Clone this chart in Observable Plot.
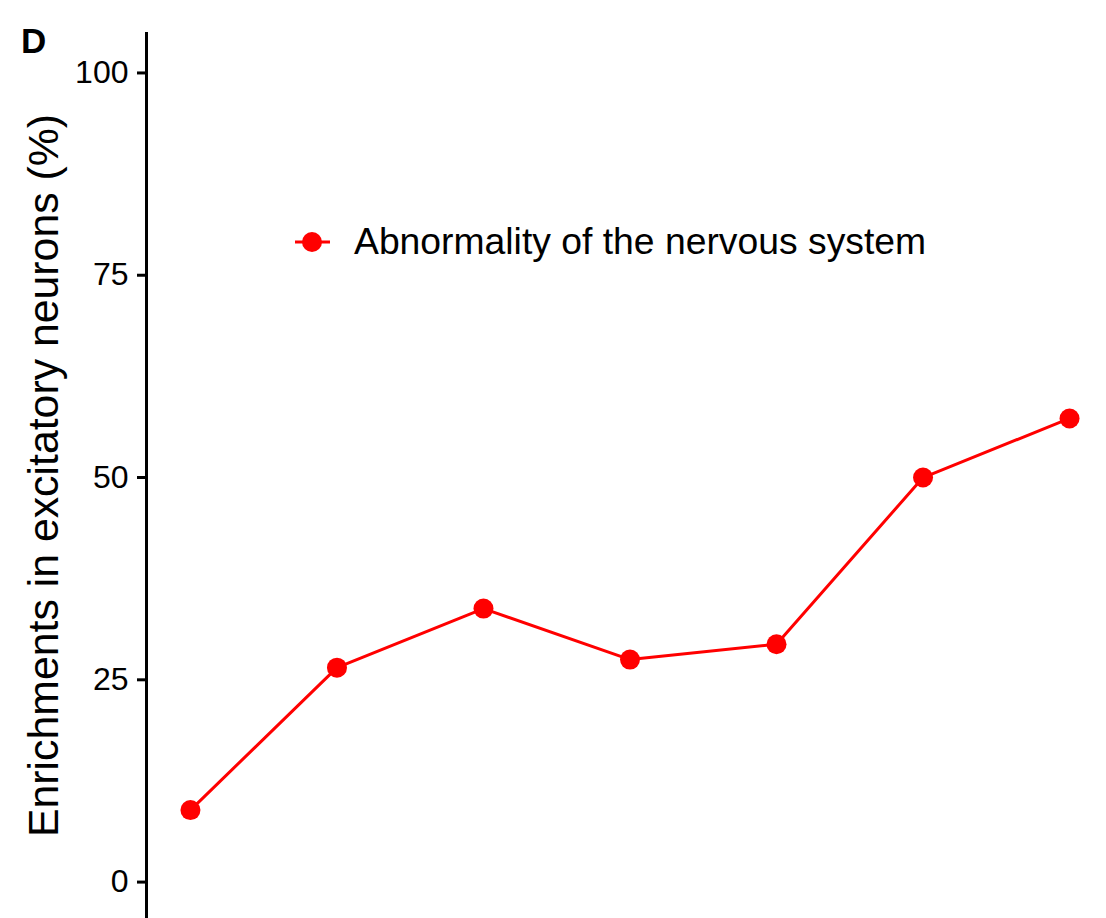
<!DOCTYPE html>
<html><head><meta charset="utf-8">
<script src="https://cdn.jsdelivr.net/npm/d3@7"></script>
<script src="https://cdn.jsdelivr.net/npm/@observablehq/plot@0.6"></script>
<style>
html,body{margin:0;padding:0;background:#fff;}
#wrap{position:relative;width:1106px;height:918px;overflow:hidden;font-family:"Liberation Sans",Arial,sans-serif;color:#000;}
#panel{position:absolute;left:21px;top:23px;font-weight:bold;font-size:35px;line-height:1;}
#legend{position:absolute;left:295px;top:222px;height:40px;display:flex;align-items:center;font-size:37.3px;line-height:1;white-space:nowrap;}
#legend svg{margin-right:24px;display:block;}
</style></head><body>
<div id="wrap"></div>
<script>
const stages = [1, 2, 3, 4, 5, 6, 7];
const enrichment = [8.9, 26.5, 33.8, 27.5, 29.4, 50.0, 57.3];
const yTicks = [0, 25, 50, 75, 100];
const xDomain = [0.7, 7.3];
const yDomain = [-4.5, 105];
const seriesName = "Abnormality of the nervous system";
const yTitle = "Enrichments in excitatory neurons (%)";
const panelTag = "D";
const lineColor = "#ff0000";

const data = stages.map((s, i) => ({stage: s, value: enrichment[i]}));

const plot = Plot.plot({
  width: 1106, height: 918,
  marginTop: 32, marginBottom: 0, marginLeft: 146, marginRight: 0,
  style: {fontFamily: '"Liberation Sans", Arial, sans-serif', background: "white", color: "black", overflow: "visible"},
  x: {domain: xDomain, range: [146, 1113], axis: null},
  y: {domain: yDomain},
  marks: [
    Plot.ruleX([xDomain[0]], {strokeWidth: 3, stroke: "black"}),
    Plot.axisY({ticks: yTicks, tickSize: 9, tickPadding: 9, fontSize: 32, strokeWidth: 3, label: null}),
    Plot.axisY({ticks: [], tickSize: 0, label: yTitle, labelAnchor: "center", labelOffset: 119, labelArrow: "none", fontSize: 42.8}),
    Plot.line(data, {x: "stage", y: "value", stroke: lineColor, strokeWidth: 3}),
    Plot.dot(data, {x: "stage", y: "value", r: 10, fill: lineColor, stroke: "none"})
  ]
});

const wrap = document.getElementById("wrap");
wrap.appendChild(plot);

const tag = document.createElement("div");
tag.id = "panel";
tag.textContent = panelTag;
wrap.appendChild(tag);

const legend = document.createElement("div");
legend.id = "legend";
legend.innerHTML = `<svg width="35" height="40"><line x1="0" x2="35" y1="20" y2="20" stroke="${lineColor}" stroke-width="3"/><circle cx="17" cy="20" r="10" fill="${lineColor}"/></svg><span>${seriesName}</span>`;
wrap.appendChild(legend);
</script>
</body></html>
